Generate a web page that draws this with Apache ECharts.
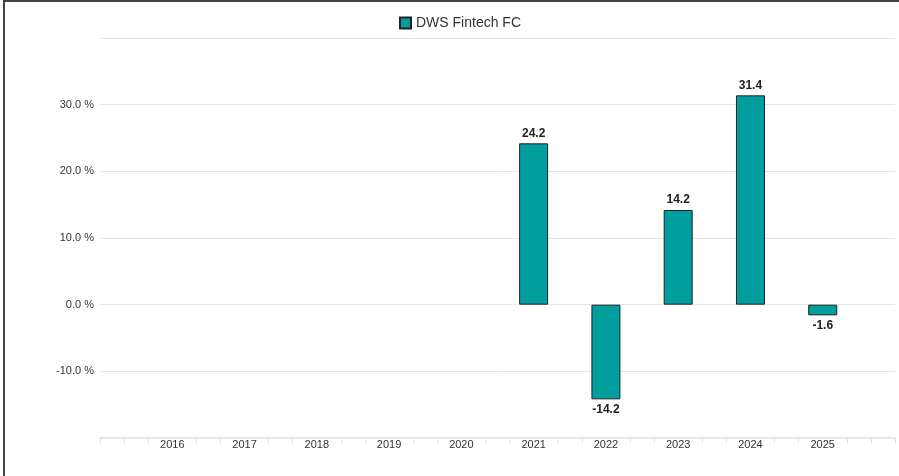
<!DOCTYPE html>
<html>
<head>
<meta charset="utf-8">
<script src="https://cdn.jsdelivr.net/npm/echarts@6/dist/echarts.min.js"></script>
<style>
html,body{margin:0;padding:0;background:#fff;}
#c{width:899px;height:476px;}
</style>
</head>
<body>
<div id="c"></div>
<script>
const seriesName = 'DWS Fintech FC';
const years = ['2016','2017','2018','2019','2020','2021','2022','2023','2024','2025'];
const values = [null, null, null, null, null, 24.2, -14.2, 14.2, 31.4, -1.6];
const yMin = -20, yMax = 40, yStep = 10;
const xMin = 2015, xMax = 2026;

const data = years.map((y, i) => [Number(y), values[i]]).filter(d => d[1] !== null);

const chart = echarts.init(document.getElementById('c'), null, {renderer: 'canvas'});
chart.setOption({
  animation: false,
  textStyle: {fontFamily: 'Liberation Sans, Arial, sans-serif'},
  legend: {
    top: 11, left: 394,
    itemWidth: 11, itemHeight: 11, itemGap: 6,
    icon: 'rect',
    textStyle: {fontSize: 14, color: '#333', fontFamily: 'Liberation Sans, Arial, sans-serif'},
    data: [seriesName]
  },
  grid: {left: 100, right: 4, top: 38, bottom: 38, containLabel: false},
  xAxis: {
    type: 'value', min: xMin, max: xMax, interval: 1,
    axisLine: {show: true, onZero: false, lineStyle: {color: '#e4e4e4', width: 2}},
    axisTick: {show: true, customValues: [xMin, xMax], length: 5, lineStyle: {color: '#e0e0e0'}},
    minorTick: {show: true, splitNumber: 3, length: 5, lineStyle: {color: '#e0e0e0', width: 1}},
    splitLine: {show: false},
    axisLabel: {
      color: '#333', fontSize: 11, margin: 1,
      formatter: v => (v > xMin && v < xMax) ? String(v) : ''
    }
  },
  yAxis: {
    type: 'value', min: yMin, max: yMax, interval: yStep,
    axisLine: {show: false}, axisTick: {show: false},
    splitLine: {lineStyle: {color: '#e6e6e6', width: 1}},
    axisLabel: {
      color: '#333', fontSize: 11, margin: 6,
      formatter: v => (v > yMin && v < yMax) ? v.toFixed(1) + ' %' : ''
    }
  },
  series: [{
    name: seriesName, type: 'bar', barWidth: 29,
    data: data.map(d => ({value: d, label: {position: d[1] < 0 ? 'bottom' : 'top'}})),
    itemStyle: {color: '#009e9f', borderColor: '#222', borderWidth: 1},
    label: {
      show: true, color: '#222', fontSize: 12, fontWeight: 'bold',
      distance: 4,
      formatter: p => p.value[1].toFixed(1)
    }
  }],
  graphic: [
    {type: 'rect', shape: {x: 3, y: 0, width: 2, height: 476}, style: {fill: '#444'}, silent: true},
    {type: 'rect', shape: {x: 3, y: 0, width: 896, height: 2}, style: {fill: '#444'}, silent: true}
  ]
});
</script>
</body>
</html>
